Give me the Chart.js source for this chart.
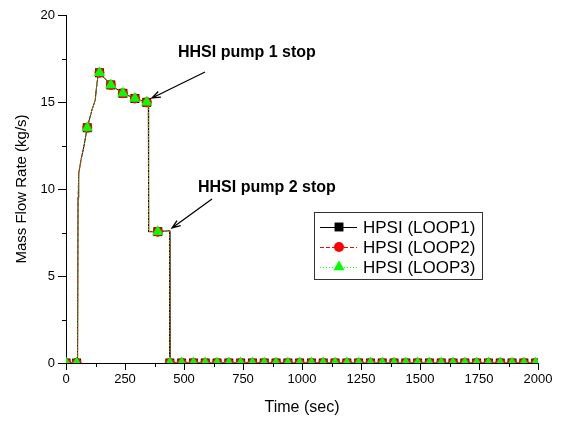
<!DOCTYPE html>
<html>
<head>
<meta charset="utf-8">
<script src="https://cdn.jsdelivr.net/npm/chart.js@4/dist/chart.umd.min.js"></script>
<style>
  html, body { margin: 0; padding: 0; background: #fff; }
  #wrap { width: 563px; height: 423px; }
</style>
</head>
<body>
<div id="wrap"><canvas id="c" width="563" height="423"></canvas></div>
<script>
// ---- data ----
const timeSec = [0, 45, 49, 51, 54, 64, 76, 90, 110, 124, 128, 135, 142, 190, 241, 292, 342, 349, 350, 389, 439, 440,
  490, 540, 590, 640, 690, 740, 790, 840, 890, 940, 990, 1040, 1090, 1140, 1190, 1240, 1290, 1340, 1390,
  1440, 1490, 1540, 1590, 1640, 1690, 1740, 1790, 1840, 1890, 1940, 1990];
const loop1Flow = [0, 0, 0, 9.5, 10.9, 11.7, 12.45, 13.52, 14.55, 15.1, 15.7, 16.45, 16.68, 15.98, 15.5, 15.2, 14.98, 14.95, 7.55, 7.55, 7.6, 0,
  0, 0, 0, 0, 0, 0, 0, 0, 0, 0, 0, 0, 0, 0, 0, 0, 0, 0, 0,
  0, 0, 0, 0, 0, 0, 0, 0, 0, 0, 0, 0];
const loop2Flow = [0, 0, 0, 9.5, 10.9, 11.7, 12.45, 13.52, 14.55, 15.1, 15.7, 16.45, 16.68, 15.98, 15.5, 15.2, 14.98, 14.95, 7.55, 7.55, 7.6, 0,
  0, 0, 0, 0, 0, 0, 0, 0, 0, 0, 0, 0, 0, 0, 0, 0, 0, 0, 0,
  0, 0, 0, 0, 0, 0, 0, 0, 0, 0, 0, 0];
const loop3Flow = [0, 0, 0, 9.5, 10.9, 11.7, 12.45, 13.52, 14.55, 15.1, 15.7, 16.45, 16.68, 15.98, 15.5, 15.2, 14.98, 14.95, 7.55, 7.55, 7.6, 0,
  0, 0, 0, 0, 0, 0, 0, 0, 0, 0, 0, 0, 0, 0, 0, 0, 0, 0, 0,
  0, 0, 0, 0, 0, 0, 0, 0, 0, 0, 0, 0];
const markerTimes = [0, 45, 90, 142, 190, 241, 292, 342, 389, 440,
  490, 540, 590, 640, 690, 740, 790, 840, 890, 940, 990, 1040, 1090, 1140, 1190, 1240, 1290, 1340, 1390,
  1440, 1490, 1540, 1590, 1640, 1690, 1740, 1790, 1840, 1890, 1940, 1990];
const seriesNames = ['HPSI (LOOP1)', 'HPSI (LOOP2)', 'HPSI (LOOP3)'];
const xTickValues = [0, 250, 500, 750, 1000, 1250, 1500, 1750, 2000];
const yTickValues = [0, 5, 10, 15, 20];
const xMinorTicks = [125, 375, 625, 875, 1125, 1375, 1625, 1875];
const yMinorTicks = [2.5, 7.5, 12.5, 17.5];
const annotations = [
  { text: 'HHSI pump 1 stop' },
  { text: 'HHSI pump 2 stop' }
];
const xTitle = 'Time (sec)';
const yTitle = 'Mass Flow Rate (kg/s)';

// ---- styles ----
const FONT = '"Liberation Sans", Arial, sans-serif';
const styles = [
  { color: '#000000', dash: [], point: 'rect', radius: 6.3 },
  { color: '#ff0000', dash: [4, 2], point: 'circle', radius: 5 },
  { color: '#00ff00', dash: [1, 2], point: 'triangle', radius: 6.5 }
];
const flows = [loop1Flow, loop2Flow, loop3Flow];

function markerRadius(r) {
  return (ctx) => {
    const t = timeSec[ctx.dataIndex];
    return markerTimes.includes(t) ? r : 0;
  };
}

const datasets = flows.map((vals, k) => ({
  label: seriesNames[k],
  data: timeSec.map((t, i) => ({ x: t, y: vals[i] })),
  borderColor: styles[k].color,
  borderWidth: 1,
  borderDash: styles[k].dash,
  backgroundColor: styles[k].color,
  pointStyle: styles[k].point,
  pointRadius: markerRadius(styles[k].radius),
  pointHoverRadius: markerRadius(styles[k].radius),
  pointBackgroundColor: styles[k].color,
  pointBorderColor: styles[k].color,
  pointBorderWidth: 0,
  tension: 0,
  fill: false,
  order: 3 - k
}));

function drawMarker(ctx, st, x, y) {
  ctx.fillStyle = st.color;
  ctx.beginPath();
  if (st.point === 'rect') {
    const s = st.radius * Math.SQRT1_2;
    ctx.rect(x - s, y - s, 2 * s, 2 * s);
  } else if (st.point === 'circle') {
    ctx.arc(x, y, st.radius, 0, Math.PI * 2);
  } else {
    const r = st.radius, a = 2 * Math.PI / 3;
    ctx.moveTo(x, y - r);
    ctx.lineTo(x + r * Math.sin(a), y - r * Math.cos(a));
    ctx.lineTo(x - r * Math.sin(a), y - r * Math.cos(a));
    ctx.closePath();
  }
  ctx.fill();
}

const decor = {
  id: 'decor',
  afterDraw(chart) {
    const ctx = chart.ctx;
    const xs = chart.scales.x, ys = chart.scales.y;
    const area = chart.chartArea;
    ctx.save();
    // minor ticks
    ctx.strokeStyle = '#000'; ctx.lineWidth = 1;
    ctx.beginPath();
    xMinorTicks.forEach(v => {
      const px = Math.round(xs.getPixelForValue(v)) + 0.5;
      ctx.moveTo(px, area.bottom); ctx.lineTo(px, area.bottom + 4);
    });
    yMinorTicks.forEach(v => {
      const py = Math.round(ys.getPixelForValue(v)) + 0.5;
      ctx.moveTo(area.left, py); ctx.lineTo(area.left - 4, py);
    });
    ctx.stroke();

    // axis titles
    ctx.fillStyle = '#000';
    ctx.textAlign = 'center'; ctx.textBaseline = 'middle';
    ctx.font = '16px ' + FONT;
    ctx.fillText(xTitle, (area.left + area.right) / 2, 408);
    ctx.font = '15px ' + FONT;
    ctx.save();
    ctx.translate(22, (area.top + area.bottom) / 2);
    ctx.rotate(-Math.PI / 2);
    ctx.fillText(yTitle, 0, 0);
    ctx.restore();

    // annotations
    ctx.font = 'bold 16px ' + FONT;
    ctx.textAlign = 'left';
    ctx.fillText(annotations[0].text, 178, 53);
    ctx.fillText(annotations[1].text, 198, 188);
    function arrow(x1, y1, x2, y2) {
      ctx.beginPath();
      ctx.moveTo(x1, y1); ctx.lineTo(x2, y2);
      const a = Math.atan2(y2 - y1, x2 - x1);
      const L = 9, s = 0.35;
      ctx.moveTo(x2 - L * Math.cos(a - s), y2 - L * Math.sin(a - s));
      ctx.lineTo(x2, y2);
      ctx.lineTo(x2 - L * Math.cos(a + s), y2 - L * Math.sin(a + s));
      ctx.strokeStyle = '#000'; ctx.lineWidth = 1.3;
      ctx.stroke();
    }
    arrow(205, 72, 152, 98);
    arrow(212, 199, 172, 228);

    // legend
    const bx = 314.5, by = 212.5, bw = 168, bh = 67;
    ctx.strokeStyle = '#333'; ctx.lineWidth = 1; ctx.setLineDash([]);
    ctx.strokeRect(bx, by, bw, bh);
    const rows = [227, 247, 267];
    ctx.font = '17px ' + FONT;
    ctx.textBaseline = 'middle';
    rows.forEach((ry, k) => {
      const st = styles[k];
      ctx.save();
      ctx.strokeStyle = st.color; ctx.lineWidth = 1; ctx.setLineDash(st.dash);
      ctx.beginPath(); ctx.moveTo(320, ry + 0.5); ctx.lineTo(357, ry + 0.5); ctx.stroke();
      ctx.restore();
      drawMarker(ctx, st, 339, ry);
      ctx.fillStyle = '#000';
      ctx.fillText(seriesNames[k], 363, ry + 1);
    });
    ctx.restore();
  }
};

new Chart(document.getElementById('c'), {
  type: 'line',
  data: { datasets },
  options: {
    responsive: false,
    animation: false,
    events: [],
    layout: { padding: { left: 0, right: 25, top: 15, bottom: 0 } },
    plugins: { legend: { display: false }, tooltip: { enabled: false } },
    scales: {
      x: {
        type: 'linear', min: 0, max: 2000,
        afterBuildTicks: (s) => { s.ticks = xTickValues.map(v => ({ value: v })); },
        afterFit: (s) => { s.height = 60; },
        ticks: { color: '#000', font: { family: FONT, size: 13 }, padding: 2, maxRotation: 0, autoSkip: false,
          callback: (v) => String(v) },
        grid: { display: true, drawOnChartArea: false, drawTicks: true, tickLength: 7, color: '#000', lineWidth: 1 },
        border: { display: true, color: '#000', width: 1 }
      },
      y: {
        type: 'linear', min: 0, max: 20,
        afterBuildTicks: (s) => { s.ticks = yTickValues.map(v => ({ value: v })); },
        afterFit: (s) => { s.width = 66; },
        ticks: { color: '#000', font: { family: FONT, size: 13 }, padding: 3, autoSkip: false,
          callback: (v) => String(v) },
        grid: { display: true, drawOnChartArea: false, drawTicks: true, tickLength: 8, color: '#000', lineWidth: 1 },
        border: { display: true, color: '#000', width: 1 }
      }
    }
  },
  plugins: [decor]
});
</script>
</body>
</html>
